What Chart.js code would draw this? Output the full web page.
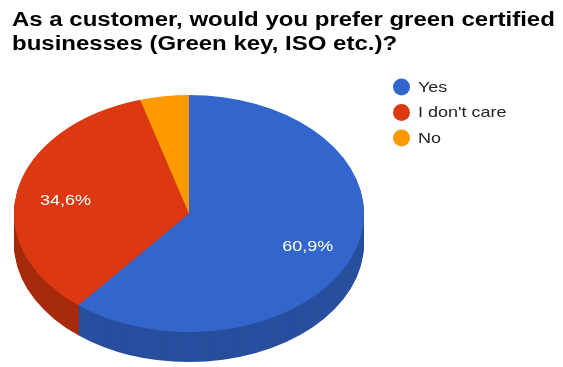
<!DOCTYPE html>
<html lang="en">
<head>
<meta charset="UTF-8">
<title>Green certified businesses</title>
<script src="https://cdn.jsdelivr.net/npm/chart.js"></script>
<style>
  body { margin: 0; background: #fff; }
</style>
</head>
<body>
<div style="width: 563px; height: 367px;">
  <canvas id="pieChart"></canvas>
</div>
<script>
const titleLines = ['As a customer, would you prefer green certified', 'businesses (Green key, ISO etc.)?'];
const labels = ['Yes', "I don't care", 'No'];
const values = [60.9, 34.6, 4.5];
const colors = ['#3366cc', '#dc3912', '#ff9900'];
const sideColors = ['#284f9e', '#a72b0e', '#c27400'];

// where the tilted pie sits on the page
const cx = 189, cy = 213.5, rx = 175, ry = 118.5, depth = 30;
// the original picture is stretched sideways, text included
const stretch = 1.2;

function tilt(ctx, arc, off) {
    const R = arc.outerRadius;
    ctx.translate(cx, cy + off);
    ctx.scale(rx / R, ry / R);
    ctx.translate(-arc.x, -arc.y);
}

function wideText(ctx, text, x, y) {
    ctx.save();
    ctx.translate(x, y);
    ctx.scale(stretch, 1);
    ctx.fillText(text, 0, 0);
    ctx.restore();
}

const pie3d = {
    id: 'pie3d',
    beforeDatasetsDraw(chart) {
        const ctx = chart.ctx;
        const arcs = chart.getDatasetMeta(0).data;
        const a0 = arcs[0];
        // side wall: stack darker copies from the bottom up
        for (let d = depth; d >= 1; d--) {
            ctx.save();
            tilt(ctx, a0, d);
            arcs.forEach((arc, i) => {
                ctx.beginPath();
                ctx.moveTo(arc.x, arc.y);
                ctx.arc(arc.x, arc.y, arc.outerRadius, arc.startAngle, arc.endAngle);
                ctx.closePath();
                ctx.fillStyle = sideColors[i];
                ctx.fill();
            });
            ctx.restore();
        }
        ctx.save();
        tilt(ctx, a0, 0);
    },
    afterDatasetsDraw(chart) {
        const ctx = chart.ctx;
        ctx.restore();
        const arcs = chart.getDatasetMeta(0).data;
        const total = values.reduce((a, b) => a + b, 0);

        ctx.save();
        // title
        ctx.font = 'bold 20px "Liberation Sans", Arial, sans-serif';
        ctx.fillStyle = '#000000';
        ctx.textAlign = 'left';
        ctx.textBaseline = 'alphabetic';
        titleLines.forEach((line, i) => wideText(ctx, line, 12, 25.5 + i * 24.5));

        // percent labels
        ctx.font = '15px "Liberation Sans", Arial, sans-serif';
        ctx.fillStyle = '#ffffff';
        ctx.textAlign = 'center';
        ctx.textBaseline = 'middle';
        arcs.forEach((arc, i) => {
            const pct = values[i] / total * 100;
            if (pct < 10) return;
            const mid = (arc.startAngle + arc.endAngle) / 2;
            const x = cx + Math.cos(mid) * rx * 0.72;
            const y = cy + Math.sin(mid) * ry * 0.72 + 4.5;
            wideText(ctx, pct.toFixed(1).replace('.', ',') + '%', x, y);
        });

        // legend
        ctx.textAlign = 'left';
        labels.forEach((lab, i) => {
            const y = 87 + i * 25.5;
            ctx.beginPath();
            ctx.arc(401.5, y, 8.5, 0, Math.PI * 2);
            ctx.fillStyle = colors[i];
            ctx.fill();
            ctx.fillStyle = '#222222';
            wideText(ctx, lab, 418, y + 0.5);
        });
        ctx.restore();
    }
};

const ctx = document.getElementById('pieChart').getContext('2d');
const pieChart = new Chart(ctx, {
    type: 'pie',
    data: {
        labels: labels,
        datasets: [{
            data: values,
            backgroundColor: colors,
            borderWidth: 0,
            clip: false
        }]
    },
    options: {
        responsive: true,
        maintainAspectRatio: false,
        animation: false,
        events: [],
        layout: { padding: { top: 60 } },
        plugins: {
            legend: { display: false },
            tooltip: { enabled: false },
            title: { display: false }
        }
    },
    plugins: [pie3d]
});
</script>
</body>
</html>
